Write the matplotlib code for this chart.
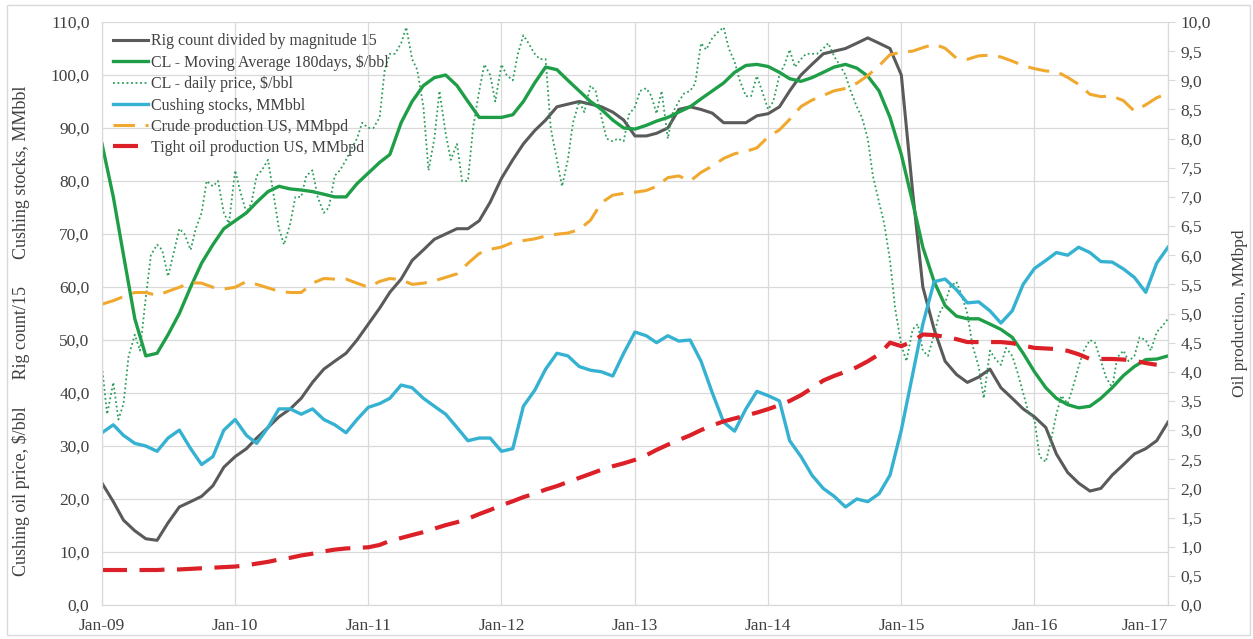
import numpy as np
import pandas as pd
import matplotlib
matplotlib.use('Agg')
import matplotlib.pyplot as plt
import matplotlib.dates as mdates
from matplotlib.ticker import MultipleLocator, FuncFormatter
from matplotlib.patches import Rectangle

plt.rcParams['font.family'] = ['Liberation Serif', 'DejaVu Serif']

# monthly dates Jan-09 .. Jan-17
months = pd.date_range('2009-01-01', '2017-01-01', freq='MS')
# semi-monthly dates for the daily price trace
half_months = pd.date_range('2009-01-01', '2017-01-01', freq='SMS')

# rig count / 15
rig_count = [
    23, 19.5, 16, 14, 12.5, 12.2, 15.5, 18.5, 19.5, 20.5, 22.5, 26,
    28, 29.5, 31.5, 33.5, 35.5, 37, 39, 42, 44.5, 46, 47.5, 50,
    53, 56, 59, 61.5, 65, 67, 69, 70, 71, 71, 72.5, 76,
    80.5, 84, 87, 89.5, 91.5, 94, 94.5, 95, 94.5, 94, 93, 91.5,
    88.5, 88.5, 89, 90, 93.5, 94, 93.5, 92.8, 91, 91, 91, 92.3,
    92.7, 94, 97, 100, 102, 104, 104.5, 105, 106, 107, 106, 105,
    100, 78, 60, 52, 46, 43.5, 42, 43, 44.5, 41, 39, 37,
    35.5, 33.5, 28.5, 25, 23, 21.5, 22, 24.5, 26.5, 28.5, 29.5, 31,
    34.5]

# CL moving average 180 days, $/bbl
cl_ma = [
    87, 77, 66, 54, 47, 47.5, 51, 55, 60, 64.5, 68, 71,
    72.5, 74, 76, 78, 79, 78.5, 78.3, 78, 77.5, 77, 77, 79.5,
    81.5, 83.5, 85, 91, 95, 98, 99.5, 100, 98, 95, 92, 92,
    92, 92.5, 95, 98.5, 101.5, 101, 99, 97, 95, 93.5, 91.5, 90,
    89.8, 90.5, 91.3, 92, 93, 94, 95.5, 97, 98.5, 100.5, 101.8, 102,
    101.6, 100.5, 99.3, 98.8, 99.5, 100.5, 101.5, 102, 101.3, 99.8, 97, 92,
    85, 76, 67.5, 61, 56.5, 54.5, 54, 54, 53, 52, 50.5, 47.5,
    44, 41, 39, 37.8, 37.2, 37.5, 39, 41, 43.3, 45, 46.3, 46.4,
    47]

# CL daily price, $/bbl (read twice a month)
cl_daily = [
    45, 36, 42, 35, 38, 47, 51, 48, 58, 66, 68, 67, 62, 66, 71, 70, 67, 71, 74, 80, 79, 80, 74, 72,
    82, 78, 74, 76, 81, 82, 84, 78, 71, 68, 72, 77, 77, 81, 82, 77, 74, 75, 81, 82, 84, 86, 88, 91,
    90, 90, 92, 101, 104, 104, 106, 109, 103, 101, 94, 82, 88, 97, 89, 84, 87, 80, 80, 90, 97, 102,
    100, 95, 102, 100, 99, 104, 107.5, 106, 104, 103, 103, 90, 84, 79, 84, 91, 95, 93, 98, 97,
    92, 88, 87.5, 88, 87.5, 92.5, 94, 97, 97.5, 96, 92.7, 97, 88, 93, 95, 96.5, 97, 98.4, 106, 104.8,
    107, 108, 109, 105, 102.5, 99, 96, 96, 99.8, 97, 93.5, 95, 100, 102, 104.8, 101.5, 103, 104, 104,
    104, 105, 106, 103.5, 102, 100, 97, 94, 92, 88, 81, 76, 72, 65, 56, 49, 46, 52, 53, 48, 47,
    51, 55, 57, 60, 61, 58.5, 55, 49, 45, 39, 48, 46.5, 45.3, 48.5, 47, 44, 40, 36.5, 35, 28, 27,
    31, 36, 39.5, 38, 41, 45, 48, 50, 49.5, 46, 43, 41, 46.7, 48, 46, 47, 50.5, 50, 48, 51.5, 52.5,
    54]

# Cushing stocks, MMbbl
cushing = [
    32.5, 34, 32, 30.5, 30, 29, 31.5, 33, 29.5, 26.5, 28, 33,
    35, 32, 30.5, 33.5, 37, 37, 36, 37, 35, 34, 32.5, 35,
    37.3, 38, 39, 41.5, 41, 39, 37.5, 36, 33.5, 31, 31.5, 31.5,
    29, 29.5, 37.5, 40.5, 44.5, 47.5, 47, 45, 44.3, 44, 43.2, 47.5,
    51.5, 50.8, 49.5, 50.8, 49.8, 50, 46, 40, 34.5, 32.8, 37, 40.3,
    39.5, 38.5, 31, 28, 24.5, 22, 20.5, 18.5, 20, 19.5, 21, 24.5,
    33, 43.5, 53, 61, 61.5, 59.5, 57, 57.2, 55.5, 53.2, 55.5, 60.5,
    63.5, 65, 66.5, 66, 67.5, 66.5, 64.8, 64.7, 63.4, 61.8, 59, 64.5,
    67.5]

# crude production US, MMbpd
crude_prod = [
    5.16, 5.22, 5.29, 5.36, 5.36, 5.31, 5.38, 5.45, 5.53, 5.52, 5.45, 5.42,
    5.45, 5.55, 5.50, 5.44, 5.38, 5.36, 5.36, 5.52, 5.60, 5.59, 5.59, 5.52,
    5.45, 5.55, 5.60, 5.58, 5.50, 5.52, 5.56, 5.62, 5.68, 5.86, 6.03, 6.10,
    6.14, 6.22, 6.25, 6.28, 6.33, 6.36, 6.38, 6.44, 6.60, 6.90, 7.03, 7.06,
    7.08, 7.11, 7.18, 7.33, 7.36, 7.27, 7.42, 7.53, 7.66, 7.74, 7.78, 7.84,
    8.03, 8.15, 8.33, 8.55, 8.66, 8.74, 8.82, 8.86, 8.95, 9.08, 9.25, 9.44,
    9.48, 9.50, 9.56, 9.62, 9.55, 9.38, 9.36, 9.42, 9.43, 9.40, 9.33, 9.25,
    9.20, 9.16, 9.15, 9.05, 8.93, 8.76, 8.72, 8.73, 8.65, 8.47, 8.58, 8.70,
    8.78]

# tight oil production US, MMbpd (ends Dec-16)
tight_prod = [
    0.60, 0.60, 0.60, 0.60, 0.60, 0.60, 0.61, 0.61, 0.62, 0.63, 0.64, 0.65,
    0.66, 0.68, 0.71, 0.74, 0.78, 0.81, 0.85, 0.88, 0.92, 0.95, 0.97, 0.98,
    0.99, 1.03, 1.10, 1.15, 1.20, 1.25, 1.31, 1.37, 1.42, 1.48, 1.56, 1.63,
    1.71, 1.78, 1.85, 1.91, 1.98, 2.04, 2.11, 2.18, 2.25, 2.32, 2.38, 2.43,
    2.49, 2.57, 2.66, 2.75, 2.83, 2.91, 3.00, 3.08, 3.15, 3.20, 3.25, 3.30,
    3.36, 3.43, 3.50, 3.60, 3.72, 3.85, 3.93, 4.00, 4.08, 4.18, 4.30, 4.50,
    4.44, 4.52, 4.64, 4.63, 4.60, 4.56, 4.51, 4.51, 4.51, 4.51, 4.49, 4.45,
    4.41, 4.40, 4.39, 4.36, 4.30, 4.22, 4.22, 4.22, 4.21, 4.19, 4.15, 4.12]

labels = ['Rig count divided by magnitude 15',
          'CL - Moving Average 180days, \\$/bbl',
          'CL - daily price, \\$/bbl',
          'Cushing stocks, MMbbl',
          'Crude production US, MMbpd',
          'Tight oil production US, MMbpd']

grid_c = '#d9d9d9'
comma = FuncFormatter(lambda v, p: f'{v:.1f}'.replace('.', ','))

fig = plt.figure(figsize=(12.53, 6.39), dpi=100)
fig.patches.append(Rectangle((7 / 1253, 4 / 639), 1243 / 1253, 630 / 639,
                             transform=fig.transFigure, fill=False,
                             edgecolor=grid_c, lw=1))
ax = fig.add_axes([102 / 1253, 1 - 605 / 639, 1066 / 1253, 583 / 639])
ax2 = ax.twinx()

h1, = ax.plot(months, rig_count, color='#5a5a5a', lw=2.2)
h2, = ax.plot(months, cl_ma, color='#1f9e48', lw=2.4)
h3, = ax.plot(half_months, cl_daily, color='#2e9e5b', lw=1.3, ls=(0, (1, 1.5)))
h4, = ax.plot(months, cushing, color='#35b1d1', lw=2.4)
h5, = ax2.plot(months, crude_prod, color='#f0a92e', lw=2.2, ls=(0, (7, 3.5)))
h6, = ax2.plot(months[:len(tight_prod)], tight_prod, color='#dc2028', lw=3,
               ls=(0, (6, 3)))

ax.set_xlim(months[0], months[-1])
ax.set_ylim(0, 110)
ax2.set_ylim(0, 10)
ax.yaxis.set_major_locator(MultipleLocator(10))
ax2.yaxis.set_major_locator(MultipleLocator(0.5))
ax.yaxis.set_major_formatter(comma)
ax2.yaxis.set_major_formatter(comma)
ax.xaxis.set_major_locator(mdates.YearLocator())
ax.xaxis.set_major_formatter(mdates.DateFormatter('%b-%y'))

ax.grid(True, color=grid_c, lw=0.9)
ax.set_axisbelow(True)
for a in (ax, ax2):
    for s in a.spines.values():
        s.set_color(grid_c)
    a.spines['top'].set_visible(False)
ax.tick_params(axis='y', length=0, pad=9, labelsize=12.5, colors='#404040')
ax.tick_params(axis='x', length=0, pad=9, labelsize=12.5, colors='#404040')
ax2.tick_params(axis='y', length=5, pad=4, labelsize=12.5, colors='#404040')
ax2.tick_params(axis='y', color=grid_c)
ax.get_xticklabels()[-1].set_horizontalalignment('right')

ax.set_ylabel('Cushing oil price, \\$/bbl      Rig count/15      Cushing stocks, MMbbl',
              fontsize=13, color='#404040')
ax.yaxis.set_label_coords(-0.068, 0.47)
ax2.set_ylabel('Oil production, MMbpd', fontsize=12.5, color='#404040')
ax2.yaxis.set_label_coords(1.06, 0.5)

leg = ax2.legend([h1, h2, h3, h4, h5, h6], labels, loc='upper left',
                 bbox_to_anchor=(0.0, 1.0), frameon=False, fontsize=11.5,
                 handlelength=2.2, handletextpad=0.15, labelspacing=0.32,
                 borderaxespad=0.3)
for t in leg.get_texts():
    t.set_color('#404040')

fig.savefig('out.png', dpi=100, facecolor='white')
